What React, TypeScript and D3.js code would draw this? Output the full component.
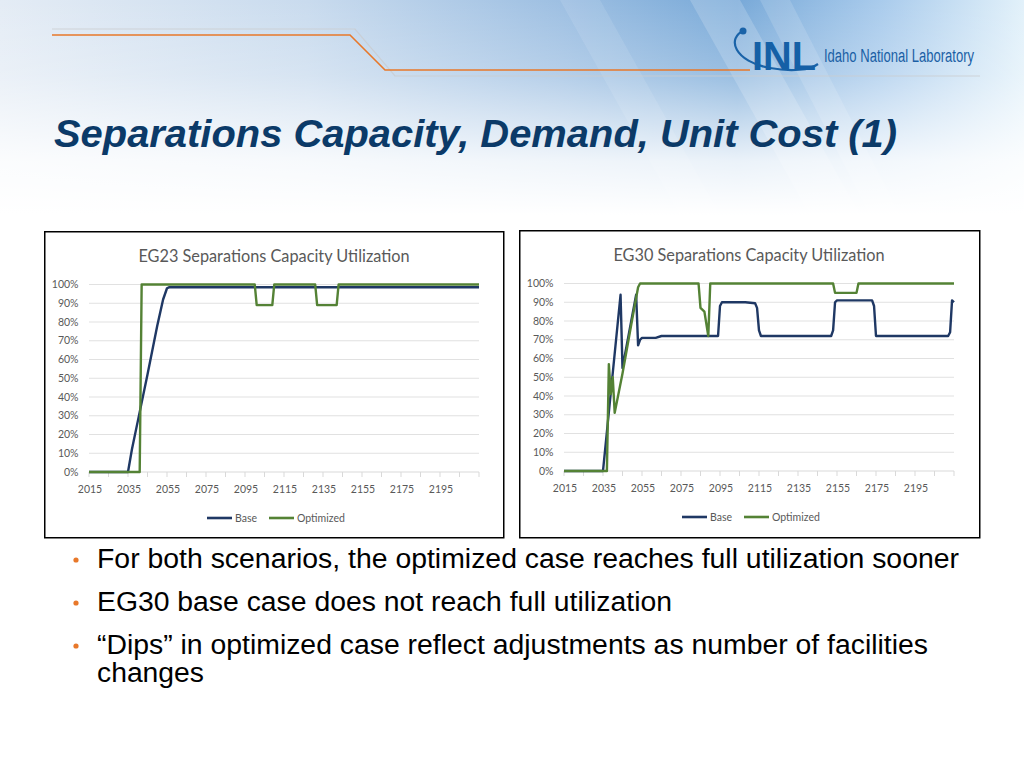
import React from 'react';
import * as d3 from 'd3';

// ---------- DATA ----------
const xTickYears = [2015, 2025, 2035, 2045, 2055, 2065, 2075, 2085, 2095, 2105, 2115, 2125, 2135, 2145, 2155, 2165, 2175, 2185, 2195, 2205, 2215];
const xLabelYears = [2015, 2035, 2055, 2075, 2095, 2115, 2135, 2155, 2175, 2195];
const pctTicks = [0, 10, 20, 30, 40, 50, 60, 70, 80, 90, 100];
const seriesNames = ['Base', 'Optimized'];

// EG23
const eg23BaseYears = [2015, 2035, 2037, 2040, 2045, 2050, 2053, 2055, 2056, 2215];
const eg23BaseValues = [0, 0, 12, 27, 52, 78, 92, 98, 98.5, 98.5];
const eg23OptYears = [2015, 2041, 2042, 2100, 2101, 2109, 2110, 2131, 2132, 2142, 2143, 2215];
const eg23OptValues = [0, 0, 100, 100, 89, 89, 100, 100, 89, 89, 100, 100];

// EG30
const eg30BaseYears = [2015, 2035, 2044, 2045, 2052, 2053, 2054, 2055, 2062, 2065, 2094, 2095, 2096, 2108, 2113, 2114, 2115, 2116, 2152, 2153, 2154, 2155, 2173, 2174, 2175, 2212, 2213, 2214, 2215];
const eg30BaseValues = [0, 0, 94, 55, 94, 67, 70, 71, 71, 72, 72, 88, 90, 90, 89.5, 87, 75, 72, 72, 75, 90, 91, 91, 88, 72, 72, 74, 91, 90];
const eg30OptYears = [2015, 2037, 2038, 2039, 2040, 2041, 2045, 2050, 2053, 2054, 2084, 2085, 2087, 2089, 2090, 2153, 2154, 2165, 2166, 2215];
const eg30OptValues = [0, 0, 57, 41, 50, 31, 52, 81, 98, 100, 100, 87, 85, 72, 100, 100, 95, 95, 100, 100];

const bullets = [
  ['For both scenarios, the optimized case reaches full utilization sooner'],
  ['EG30 base case does not reach full utilization'],
  ['\u201CDips\u201D in optimized case reflect adjustments as number of facilities', 'changes'],
];

// ---------- STYLE ----------
const BASE_COLOR = '#1f3864';
const OPT_COLOR = '#548235';
const TEXT_GRAY = '#595959';
const GRID = '#d9d9d9';
const CHART_FONT = 'Lato, "Open Sans", sans-serif';
const NARROW = '"Liberation Sans Narrow", "Liberation Sans", Arial, sans-serif';

type ChartProps = {
  ox: number; oy: number; w: number; h: number; title: string;
  baseYears: number[]; baseValues: number[]; optYears: number[]; optValues: number[];
};

function Chart({ ox, oy, w, h, title, baseYears, baseValues, optYears, optValues }: ChartProps) {
  const x = d3.scaleLinear().domain([2015, 2215]).range([ox + 45, ox + 435]);
  const y = d3.scaleLinear().domain([0, 100]).range([oy + 241, oy + 53.5]);
  const line = d3.line<[number, number]>().x(d => x(d[0])).y(d => y(d[1]));
  const basePts = baseYears.map((yr, i) => [yr, baseValues[i]] as [number, number]);
  const optPts = optYears.map((yr, i) => [yr, optValues[i]] as [number, number]);
  const [x0, x1] = x.range();
  const legY = oy + 287;
  const legX = ox + 163;
  return (
    <g>
      <rect x={ox + 0.75} y={oy + 0.75} width={w} height={h} fill="#fff" stroke="#000" strokeWidth={1.5} />
      <text x={ox + 230} y={oy + 31} textAnchor="middle" fontFamily={CHART_FONT} fontSize={16.3} fill={TEXT_GRAY}>{title}</text>
      {pctTicks.map(p => (
        <g key={p}>
          <line x1={x0} x2={x1} y1={y(p)} y2={y(p)} stroke={GRID} strokeWidth={p === 0 ? 1 : 0.8} />
          <text x={x0 - 10.5} y={y(p)} dy="0.35em" textAnchor="end" fontFamily={CHART_FONT} fontSize={10.5} fill={TEXT_GRAY}>{p}%</text>
        </g>
      ))}
      {xTickYears.map(t => (
        <line key={t} x1={x(t)} x2={x(t)} y1={y(0)} y2={y(0) + 5} stroke={GRID} strokeWidth={1} />
      ))}
      {xLabelYears.map(t => (
        <text key={t} x={x(t) + 1} y={y(0) + 21} textAnchor="middle" fontFamily={CHART_FONT} fontSize={10.5} fill={TEXT_GRAY}>{t}</text>
      ))}
      <path d={line(basePts) || ''} fill="none" stroke={BASE_COLOR} strokeWidth={2.4} strokeLinejoin="round" />
      <path d={line(optPts) || ''} fill="none" stroke={OPT_COLOR} strokeWidth={2.4} strokeLinejoin="round" />
      <line x1={legX} x2={legX + 25} y1={legY} y2={legY} stroke={BASE_COLOR} strokeWidth={2.6} />
      <text x={legX + 28} y={legY} dy="0.35em" fontFamily={CHART_FONT} fontSize={10.5} fill={TEXT_GRAY}>{seriesNames[0]}</text>
      <line x1={legX + 62} x2={legX + 87} y1={legY} y2={legY} stroke={OPT_COLOR} strokeWidth={2.6} />
      <text x={legX + 90} y={legY} dy="0.35em" fontFamily={CHART_FONT} fontSize={10.5} fill={TEXT_GRAY}>{seriesNames[1]}</text>
    </g>
  );
}

export default function App() {
  const bulletLineYs = [[568], [611], [654, 682]];
  const bulletWidths = [[862], [575], [831, 107]];
  return (
    <div style={{ position: 'fixed', left: 0, top: 0, width: 1024, height: 768 }}>
      <svg width={1024} height={768} viewBox="0 0 1024 768" style={{ display: 'block' }}>
        <defs>
          <linearGradient id="hdrH" x1="0" x2="1" y1="0" y2="0">
            <stop offset="0" stopColor="#e4ecf5" />
            <stop offset="0.3" stopColor="#c9dbee" />
            <stop offset="0.55" stopColor="#9dbfe2" />
            <stop offset="0.72" stopColor="#78a9d8" />
            <stop offset="0.86" stopColor="#a9cbec" />
            <stop offset="1" stopColor="#e2f1fa" />
          </linearGradient>
          <linearGradient id="hdrV" x1="0" x2="0" y1="0" y2="1">
            <stop offset="0" stopColor="#fff" stopOpacity="0" />
            <stop offset="0.35" stopColor="#fff" stopOpacity="0.25" />
            <stop offset="0.75" stopColor="#fff" stopOpacity="0.85" />
            <stop offset="1" stopColor="#fff" stopOpacity="1" />
          </linearGradient>
        </defs>
        <rect x={0} y={0} width={1024} height={768} fill="#fff" />
        <rect x={0} y={0} width={1024} height={215} fill="url(#hdrH)" />
        <polygon points="690,0 740,0 860,215 810,215" fill="#fff" opacity={0.18} />
        <polygon points="760,0 790,0 900,215 870,215" fill="#fff" opacity={0.14} />
        <polygon points="560,0 600,0 720,215 680,215" fill="#fff" opacity={0.1} />
        <rect x={0} y={0} width={1024} height={215} fill="url(#hdrV)" />

        {/* header lines */}
        <polyline points="52,29 355,29 395,76 980,76" fill="none" stroke="#c9ccd0" strokeWidth={1.2} opacity={0.8} />
        <polyline points="52,35 350,35 385,70 750,70" fill="none" stroke="#e8782a" strokeWidth={1.6} />

        {/* logo */}
        <path d="M745,30 C725,38 735,62 770,68 C792,72 810,70 818,64" fill="none" stroke="#1a63a8" strokeWidth={2.2} />
        <circle cx={743} cy={31} r={3.5} fill="#1a63a8" />
        <text x={752} y={70} fontFamily='"Liberation Sans", Arial, sans-serif' fontWeight="bold" fontSize={40} fill="#1560a6" textLength={64} lengthAdjust="spacingAndGlyphs">INL</text>
        <g transform="translate(824,62) scale(1,1.4)">
          <text x={0} y={0} fontFamily={NARROW} fontSize={13.5} fill="#1a5fa5" textLength={150} lengthAdjust="spacingAndGlyphs">Idaho National Laboratory</text>
        </g>

        {/* title */}
        <text x={54} y={147} fontFamily={NARROW} fontWeight="bold" fontStyle="italic" fontSize={39} fill="#0b3a68" textLength={843} lengthAdjust="spacingAndGlyphs">Separations Capacity, Demand, Unit Cost (1)</text>

        <Chart ox={44} oy={231} w={459} h={306} title="EG23 Separations Capacity Utilization"
          baseYears={eg23BaseYears} baseValues={eg23BaseValues} optYears={eg23OptYears} optValues={eg23OptValues} />
        <Chart ox={519} oy={230} w={460} h={307} title="EG30 Separations Capacity Utilization"
          baseYears={eg30BaseYears} baseValues={eg30BaseValues} optYears={eg30OptYears} optValues={eg30OptValues} />

        {/* bullets */}
        {bullets.map((lines, i) => (
          <g key={i}>
            <circle cx={76} cy={bulletLineYs[i][0] - 8} r={2.6} fill="#e8782a" />
            {lines.map((ln, j) => (
              <text key={j} x={97} y={bulletLineYs[i][j]} fontFamily={NARROW} fontSize={27} fill="#000"
                textLength={bulletWidths[i][j]} lengthAdjust="spacingAndGlyphs">{ln}</text>
            ))}
          </g>
        ))}
      </svg>
    </div>
  );
}
